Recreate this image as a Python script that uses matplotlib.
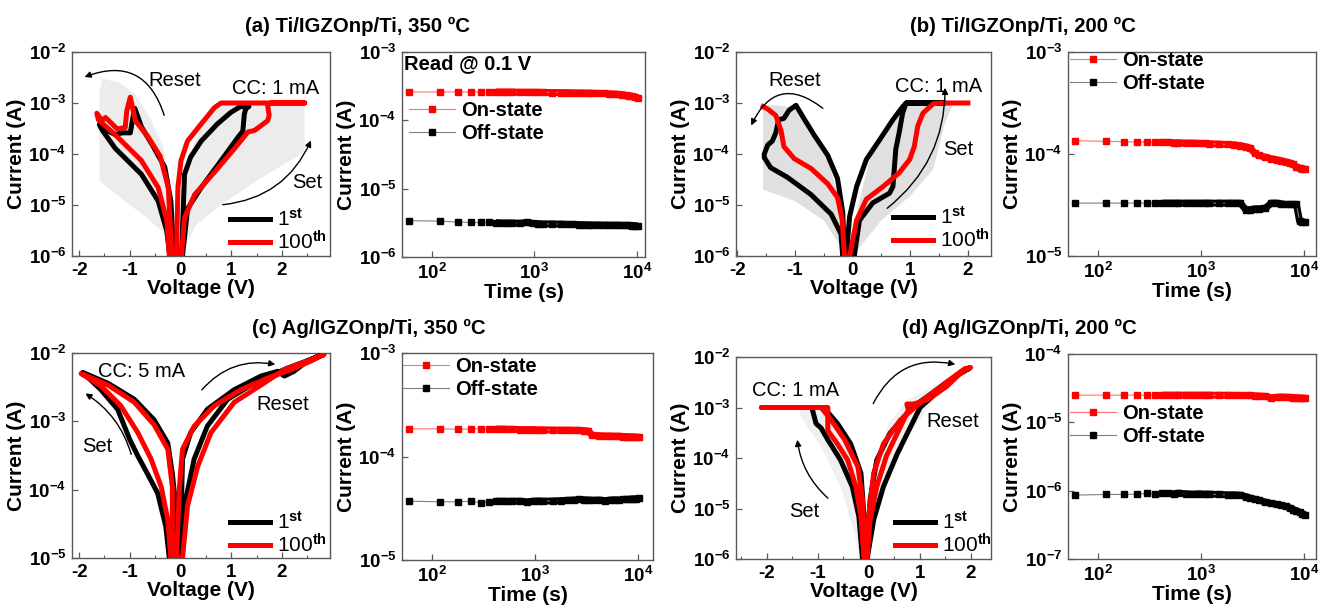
import numpy as np
import matplotlib
matplotlib.use('Agg')
import matplotlib.pyplot as plt
from matplotlib.ticker import MultipleLocator, NullLocator, FixedLocator, FuncFormatter

W, H = 1318, 606
plt.rcParams['font.family'] = ['Liberation Sans', 'DejaVu Sans']
plt.rcParams['font.weight'] = 'bold'
plt.rcParams['axes.labelweight'] = 'bold'
plt.rcParams['mathtext.fontset'] = 'custom'
plt.rcParams['mathtext.rm'] = 'Liberation Sans'
plt.rcParams['mathtext.it'] = 'Liberation Sans:italic'
plt.rcParams['mathtext.bf'] = 'Liberation Sans:bold'
plt.rcParams['axes.unicode_minus'] = False

# ---------------- I-V data ----------------
# (a) Ti/IGZOnp/Ti, 350 C
a_gray_neg_V = [-0.12, -0.35, -0.7, -1.1, -1.6, -1.6, -1.55, -1.2, -0.9, -0.6, -0.35, -0.2, -0.1]
a_gray_neg_I = [1e-6, 3e-6, 6e-6, 1.2e-5, 3e-5, 1.5e-3, 3e-3, 2.5e-3, 1.5e-3, 5e-4, 1.5e-4, 3e-5, 1e-6]
a_gray_pos_V = [0.0, 0.3, 0.8, 1.5, 2.45, 2.45, 0.8, 0.5, 0.25, 0.1, -0.02]
a_gray_pos_I = [1e-6, 4e-6, 1e-5, 3e-5, 1.1e-4, 1e-3, 1e-3, 5e-4, 1.5e-4, 3e-5, 1e-6]
a_1st_V = [0.04, 0.14, 0.41, 0.80, 1.13, 1.23, 1.26, 1.29, 1.35, 1.18, 0.99, 0.73, 0.41, 0.20, 0.08, 0.02,
           -0.13, -0.19, -0.31, -0.57, -0.77, -0.90, -0.93, -0.99, -1.15, -1.29, -1.42, -1.60, -1.55,
           -1.29, -0.77, -0.44, -0.27, -0.21]
a_1st_I = [1e-6, 8.5e-6, 2.2e-5, 7.4e-5, 2.1e-4, 2.8e-4, 6.1e-4, 7.8e-4, 8.5e-4, 8.5e-4, 6.5e-4, 3.9e-4, 1.8e-4, 8.7e-5, 4e-5, 1e-6,
           1e-6, 1.2e-5, 5.5e-5, 1.6e-4, 3.4e-4, 7.8e-4, 5.7e-4, 2.6e-4, 2.6e-4, 2.4e-4, 2.8e-4, 3.8e-4, 3e-4,
           1.3e-4, 4e-5, 1.2e-5, 3.1e-6, 1e-6]
a_100_V = [0.02, 0.08, 0.28, 0.67, 1.06, 1.33, 1.46, 1.59, 1.72, 1.75, 1.72, 1.78, 2.45, 0.80, 0.67, 0.41, 0.14, 0.01, -0.05, -0.08,
           -0.17, -0.24, -0.40, -0.63, -0.89, -0.99, -1.06, -1.09, -1.25, -1.35, -1.48, -1.55, -1.65, -1.62,
           -1.29, -0.77, -0.44, -0.27, -0.22]
a_100_I = [1e-6, 5.6e-6, 1.6e-5, 4.4e-5, 1.26e-4, 2.7e-4, 2.9e-4, 3.6e-4, 4.5e-4, 5.7e-4, 9e-4, 1e-3, 1e-3, 1e-3, 8.1e-4, 3.9e-4, 1.8e-4, 7.4e-5, 2.2e-5, 1e-6,
           1e-6, 2.2e-5, 9e-5, 2.1e-4, 4.5e-4, 1.3e-3, 7e-4, 3.3e-4, 3.1e-4, 3.9e-4, 5.2e-4, 4.5e-4, 6.3e-4, 4.7e-4,
           2.4e-4, 7.4e-5, 2.2e-5, 5e-6, 1e-6]

# (b) Ti/IGZOnp/Ti, 200 C
b_gray_neg_V = [-0.1, -0.5, -1.0, -1.55, -1.55, -1.3, -1.0, -0.7, -0.4, -0.2, -0.08]
b_gray_neg_I = [1e-6, 5e-6, 1.2e-5, 2e-5, 9e-4, 9e-4, 8e-4, 3e-4, 6e-5, 1e-5, 1e-6]
b_gray_pos_V = [0.0, 0.5, 1.0, 1.4, 1.6, 1.75, 1.0, 0.6, 0.3, 0.1, -0.05]
b_gray_pos_I = [1e-6, 5e-6, 1.5e-5, 5e-5, 4e-4, 1e-3, 1e-3, 4e-4, 8e-5, 1e-5, 1e-6]
b_1st_V = [0.03, 0.12, 0.35, 0.64, 0.70, 0.75, 0.81, 0.87, 0.93, 1.60, 0.93, 0.87, 0.70, 0.47, 0.24, 0.07, -0.05, -0.11,
           -0.14, -0.17, -0.26, -0.43, -0.66, -0.84, -0.98, -1.10, -1.19, -1.28, -1.33, -1.39, -1.47, -1.53, -1.53,
           -1.42, -1.13, -0.72, -0.37, -0.20, -0.17]
b_1st_I = [1e-6, 5e-6, 1.1e-5, 1.7e-5, 2.3e-5, 1.25e-4, 2.7e-4, 6.5e-4, 1e-3, 1e-3, 1e-3, 8.5e-4, 4.7e-4, 1.9e-4, 7.8e-5, 2.3e-5, 6e-6, 1e-6,
           1e-6, 7.2e-6, 3.3e-5, 9.4e-5, 2.3e-4, 4.9e-4, 9e-4, 7.2e-4, 5e-4, 4.7e-4, 2.6e-4, 1.8e-4, 1.5e-4, 1e-4, 8.5e-5,
           5.4e-5, 3.5e-5, 1.6e-5, 6.6e-6, 2.7e-6, 1e-6]
b_100_V = [-1.55, -1.47, -1.33, -1.24, -1.19, -1.01, -0.72, -0.43, -0.26, -0.18, -0.14,
           -0.05, 0.07, 0.24, 0.53, 0.81, 0.99, 1.07, 1.13, 1.22, 1.40, 1.57, 2.00]
b_100_I = [8.5e-4, 7.6e-4, 5.7e-4, 2.9e-4, 1.4e-4, 8.1e-5, 5.2e-5, 2.6e-5, 1.4e-5, 5.1e-6, 1e-6,
           1e-6, 5e-6, 1.3e-5, 2.3e-5, 4.3e-5, 7.8e-5, 1.4e-4, 3.5e-4, 6.3e-4, 9.7e-4, 1e-3, 1e-3]

# (c) Ag/IGZOnp/Ti, 350 C
c_1st_V = [-0.04, 0.02, 0.04, 0.20, 0.53, 1.06, 1.59, 1.92, 2.05, 2.24, 2.50, 2.70, 2.83, 2.11, 1.45, 0.93, 0.53, 0.27, 0.10, 0.00,
           -0.22, -0.29, -0.45, -0.65, -0.84, -1.00, -1.24, -1.57, -1.93, -1.43, -0.91, -0.52, -0.25, -0.16, -0.12, -0.12]
c_1st_I = [1e-5, 7e-5, 2.8e-4, 6.8e-4, 1.5e-3, 2.9e-3, 4.6e-3, 5.4e-3, 4.6e-3, 5.4e-3, 7.6e-3, 8.9e-3, 9.5e-3, 6e-3, 3.6e-3, 2.1e-3, 8.5e-4, 2.8e-4, 7e-5, 1e-5,
           1e-5, 2.9e-5, 8.9e-5, 1.7e-4, 3.1e-4, 5.4e-4, 1.5e-3, 2.9e-3, 5.2e-3, 3.6e-3, 2.1e-3, 1.05e-3, 4.8e-4, 1.7e-4, 8.9e-5, 1e-5]
c_100_V = [-0.08, -0.02, 0.04, 0.27, 0.67, 1.19, 1.72, 2.18, 2.57, 2.83, 2.05, 1.59, 1.06, 0.60, 0.34, 0.14, 0.04,
           -0.19, -0.25, -0.38, -0.58, -0.84, -1.18, -1.57, -1.96, -1.43, -0.91, -0.52, -0.25, -0.16, -0.16]
c_100_I = [1e-5, 1.1e-4, 3.9e-4, 8.5e-4, 1.7e-3, 2.9e-3, 4.3e-3, 5.7e-3, 7.6e-3, 9.5e-3, 5.7e-3, 3.4e-3, 1.9e-3, 6.8e-4, 2.2e-4, 5.8e-5, 1e-5,
           1e-5, 3.6e-5, 1.1e-4, 2.8e-4, 6.8e-4, 1.7e-3, 3.3e-3, 5e-3, 3.4e-3, 1.9e-3, 8.9e-4, 3.9e-4, 1.1e-4, 1e-5]

# (d) Ag/IGZOnp/Ti, 200 C
d_gray_neg_V = [-0.15, -0.5, -0.9, -1.35, -1.35, -0.8, -0.5, -0.25, -0.08]
d_gray_neg_I = [1e-6, 2e-5, 1.5e-4, 7e-4, 1.1e-3, 1.1e-3, 3e-4, 5e-5, 1e-6]
d_gray_pos_V = [0.0, 0.3, 0.8, 1.3, 1.9, 1.5, 0.8, 0.4, 0.15, -0.05]
d_gray_pos_I = [1e-6, 3e-5, 3e-4, 1.5e-3, 5e-3, 3.5e-3, 1.5e-3, 5e-4, 1e-4, 1e-6]
d_1st_V = [-0.12, -0.19, -0.32, -0.55, -0.80, -0.93, -1.03, -1.10, -1.10, -2.10, -0.88, -0.61, -0.35, -0.15, -0.09, -0.07,
           -0.04, 0.03, 0.16, 0.42, 0.75, 1.01, 1.47, 1.86, 1.98, 1.73, 1.34, 1.01, 0.82, 0.56, 0.29, 0.10, -0.03]
d_1st_I = [1e-6, 6.9e-6, 2.7e-5, 9.1e-5, 2.3e-4, 3.9e-4, 4.8e-4, 8.9e-4, 1e-3, 1e-3, 1e-3, 4.8e-4, 1.9e-4, 5e-5, 6.9e-6, 1e-6,
           1e-6, 1.5e-5, 9.1e-5, 3.1e-4, 7.6e-4, 1.3e-3, 2.8e-3, 5.3e-3, 6e-3, 4.3e-3, 2e-3, 1e-3, 4.1e-4, 1.2e-4, 2.7e-5, 6e-6, 1e-6]
d_100_V = [-0.09, -0.15, -0.25, -0.41, -0.61, -0.80, -0.80, -2.10, -0.93, -0.73, -0.47, -0.21, -0.12, -0.07,
           -0.06, 0.00, 0.10, 0.29, 0.62, 0.88, 1.14, 1.53, 1.89, 2.00, 1.82, 1.53, 1.14, 0.88, 0.75, 0.78, 0.62, 0.35, 0.16, 0.03, -0.03]
d_100_I = [1e-6, 6.9e-6, 2.7e-5, 9.1e-5, 1.9e-4, 3.5e-4, 1e-3, 1e-3, 1e-3, 5.6e-4, 2.3e-4, 6.7e-5, 1.5e-5, 1e-6,
           1e-6, 6.9e-6, 5e-5, 1.9e-4, 5.6e-4, 9.5e-4, 1.6e-3, 3.2e-3, 5.9e-3, 6.2e-3, 5e-3, 2.6e-3, 1.4e-3, 1.17e-3, 1.17e-3, 8.9e-4, 4.1e-4, 1.1e-4, 2.7e-5, 6e-6, 1e-6]

# ---------------- retention data ----------------
ret_t = [60, 120, 180, 240, 300, 360, 420, 480, 540, 600, 720, 840, 960, 1080, 1200, 1500, 1800, 2100, 2400,
         2700, 3000, 3300, 3600, 4200, 4800, 5400, 6000, 6600, 7200, 7800, 8400, 9000, 9600, 10200]
a_on = [2.6e-4, 2.6e-4, 2.6e-4, 2.6e-4, 2.6e-4, 2.6e-4, 2.6e-4, 2.6e-4, 2.6e-4, 2.6e-4, 2.58e-4, 2.58e-4, 2.57e-4, 2.57e-4,
        2.56e-4, 2.55e-4, 2.55e-4, 2.54e-4, 2.53e-4, 2.52e-4, 2.52e-4, 2.5e-4, 2.5e-4, 2.48e-4, 2.47e-4, 2.45e-4, 2.43e-4,
        2.4e-4, 2.38e-4, 2.33e-4, 2.3e-4, 2.25e-4, 2.2e-4, 2.15e-4]
a_off = [3.4e-6, 3.35e-6, 3.25e-6, 3.2e-6, 3.2e-6, 3.2e-6, 3.18e-6, 3.15e-6, 3.15e-6, 3.15e-6, 3.12e-6, 3.2e-6, 3.1e-6,
         3.08e-6, 3.05e-6, 3.05e-6, 3.03e-6, 3.0e-6, 3.0e-6, 2.98e-6, 2.97e-6, 2.96e-6, 2.95e-6, 2.95e-6, 2.93e-6,
         2.93e-6, 2.92e-6, 2.92e-6, 2.9e-6, 2.9e-6, 2.9e-6, 2.88e-6, 2.87e-6, 2.85e-6]
b_on = [1.35e-4, 1.33e-4, 1.32e-4, 1.31e-4, 1.31e-4, 1.3e-4, 1.3e-4, 1.3e-4, 1.29e-4, 1.29e-4, 1.28e-4, 1.28e-4, 1.27e-4,
        1.27e-4, 1.26e-4, 1.25e-4, 1.24e-4, 1.23e-4, 1.21e-4, 1.18e-4, 1.14e-4, 1.02e-4, 9.7e-5, 9.3e-5, 9.0e-5, 8.8e-5,
        8.6e-5, 8.4e-5, 8.2e-5, 7.9e-5, 7.5e-5, 7.3e-5, 7.2e-5, 7.1e-5]
b_off = [3.3e-5, 3.3e-5, 3.3e-5, 3.3e-5, 3.3e-5, 3.3e-5, 3.3e-5, 3.3e-5, 3.3e-5, 3.3e-5, 3.3e-5, 3.3e-5, 3.3e-5, 3.3e-5,
         3.3e-5, 3.3e-5, 3.3e-5, 3.3e-5, 3.3e-5, 2.85e-5, 2.85e-5, 2.9e-5, 2.9e-5, 2.95e-5, 3.3e-5, 3.3e-5, 3.25e-5,
         3.2e-5, 3.2e-5, 3.2e-5, 3.2e-5, 2.2e-5, 2.15e-5, 2.15e-5]
c_on = [1.85e-4, 1.85e-4, 1.83e-4, 1.85e-4, 1.85e-4, 1.84e-4, 1.84e-4, 1.84e-4, 1.83e-4, 1.83e-4, 1.82e-4, 1.82e-4,
        1.82e-4, 1.81e-4, 1.81e-4, 1.8e-4, 1.8e-4, 1.8e-4, 1.79e-4, 1.79e-4, 1.78e-4, 1.76e-4, 1.6e-4, 1.59e-4, 1.58e-4,
        1.58e-4, 1.57e-4, 1.57e-4, 1.56e-4, 1.56e-4, 1.55e-4, 1.55e-4, 1.54e-4, 1.54e-4]
c_off = [3.7e-5, 3.65e-5, 3.65e-5, 3.7e-5, 3.55e-5, 3.65e-5, 3.7e-5, 3.7e-5, 3.68e-5, 3.7e-5, 3.7e-5, 3.65e-5, 3.7e-5,
         3.72e-5, 3.7e-5, 3.72e-5, 3.75e-5, 3.78e-5, 3.8e-5, 3.85e-5, 3.82e-5, 3.8e-5, 3.78e-5, 3.8e-5, 3.75e-5, 3.8e-5,
         3.82e-5, 3.8e-5, 3.85e-5, 3.85e-5, 3.87e-5, 3.9e-5, 3.9e-5, 3.95e-5]
d_on = [2.5e-5, 2.5e-5, 2.5e-5, 2.5e-5, 2.5e-5, 2.5e-5, 2.5e-5, 2.5e-5, 2.5e-5, 2.5e-5, 2.5e-5, 2.5e-5, 2.5e-5, 2.5e-5,
        2.5e-5, 2.49e-5, 2.49e-5, 2.48e-5, 2.48e-5, 2.47e-5, 2.47e-5, 2.45e-5, 2.43e-5, 2.4e-5, 2.3e-5, 2.32e-5, 2.35e-5,
        2.33e-5, 2.32e-5, 2.3e-5, 2.3e-5, 2.28e-5, 2.26e-5, 2.25e-5]
d_off = [8.6e-7, 8.8e-7, 8.8e-7, 8.9e-7, 9.1e-7, 9.0e-7, 9.1e-7, 9.1e-7, 9.0e-7, 9.2e-7, 9.0e-7, 8.9e-7, 9.0e-7, 8.9e-7,
         8.9e-7, 8.8e-7, 8.7e-7, 8.7e-7, 8.6e-7, 8.2e-7, 7.8e-7, 7.5e-7, 7.3e-7, 6.8e-7, 6.5e-7, 6.3e-7, 6.1e-7, 5.9e-7,
         5.6e-7, 5.3e-7, 5.1e-7, 4.8e-7, 4.6e-7, 4.4e-7]

titles = ['(a) Ti/IGZOnp/Ti, 350 ºC', '(b) Ti/IGZOnp/Ti, 200 ºC',
          '(c) Ag/IGZOnp/Ti, 350 ºC', '(d) Ag/IGZOnp/Ti, 200 ºC']

# ---------------- figure ----------------
fig = plt.figure(figsize=(W / 100, H / 100), dpi=100)
AXC = '#5a5a5a'


def add_ax(l, t, r, b):
    return fig.add_axes([l / W, 1 - b / H, (r - l) / W, (b - t) / H])


def logfmt(v, p):
    return r'$\mathbf{10^{%d}}$' % int(round(np.log10(v)))


def style(ax):
    for s in ax.spines.values():
        s.set_color(AXC)
        s.set_linewidth(1.0)
    ax.tick_params(which='both', direction='in', color=AXC, top=False, right=False)
    ax.tick_params(which='major', length=4, width=0.9, labelsize=13.5, pad=4)
    ax.tick_params(which='minor', length=2.5, width=0.8)


def iv_panel(box, xlim, ylim, grays, gcol, c1, c100, leg_xy):
    ax = add_ax(*box)
    for gv, gi in grays:
        ax.fill(gv, gi, color=gcol, lw=0, zorder=1)
    ax.plot(c1[0], c1[1], color='black', lw=3.6, zorder=3, solid_joinstyle='round', label='1$^{\\rm st}$')
    ax.plot(c100[0], c100[1], color='red', lw=3.6, zorder=4, solid_joinstyle='round', label='100$^{\\rm th}$')
    ax.set_yscale('log')
    ax.set_xlim(*xlim)
    ax.set_ylim(*ylim)
    ax.xaxis.set_major_locator(MultipleLocator(1))
    ax.xaxis.set_minor_locator(MultipleLocator(0.5))
    ax.xaxis.set_major_formatter(FuncFormatter(lambda v, p: '%d' % int(round(v))))
    ax.yaxis.set_major_locator(FixedLocator([10.0 ** k for k in range(-8, -1)]))
    ax.yaxis.set_minor_locator(NullLocator())
    ax.yaxis.set_major_formatter(FuncFormatter(logfmt))
    style(ax)
    ax.set_xlabel('Voltage (V)', fontsize=15, fontweight='bold', labelpad=0)
    ax.set_ylabel('Current (A)', fontsize=15, fontweight='bold', labelpad=2)
    ax.legend(loc='upper left', bbox_to_anchor=(leg_xy[0] / W, 1 - leg_xy[1] / H),
              bbox_transform=fig.transFigure, frameon=False, prop=dict(size=15, weight='normal'),
              handlelength=1.9, handletextpad=0.35, labelspacing=0.0, borderpad=0, borderaxespad=0)
    return ax


def ret_panel(box, xlim, ylim, t, on, off, leg_xy):
    ax = add_ax(*box)
    t = np.array(t)
    on = np.array(on)
    off = np.array(off)
    ax.plot(t, on, color='#ff7070', lw=0.8, marker='s', ms=5, mfc='red', mec='red', label='On-state', zorder=3)
    ax.plot(t, off, color='#808080', lw=0.8, marker='s', ms=5, mfc='black', mec='black', label='Off-state', zorder=3)
    dense = t >= 420
    ax.plot(t[dense], on[dense], color='red', lw=5, solid_capstyle='butt', zorder=2)
    ax.plot(t[dense], off[dense], color='black', lw=5, solid_capstyle='butt', zorder=2)
    ax.set_xscale('log')
    ax.set_yscale('log')
    ax.set_xlim(*xlim)
    ax.set_ylim(*ylim)
    ax.xaxis.set_major_locator(FixedLocator([1e2, 1e3, 1e4]))
    ax.xaxis.set_minor_locator(NullLocator())
    ax.xaxis.set_major_formatter(FuncFormatter(logfmt))
    ax.yaxis.set_major_locator(FixedLocator([10.0 ** k for k in range(-8, -1)]))
    ax.yaxis.set_minor_locator(NullLocator())
    ax.yaxis.set_major_formatter(FuncFormatter(logfmt))
    style(ax)
    ax.set_xlabel('Time (s)', fontsize=15, fontweight='bold', labelpad=0)
    ax.set_ylabel('Current (A)', fontsize=15, fontweight='bold', labelpad=2)
    ax.legend(loc='upper left', bbox_to_anchor=(leg_xy[0] / W, 1 - leg_xy[1] / H),
              bbox_transform=fig.transFigure, frameon=False, prop=dict(size=14.5, weight='bold'),
              handlelength=2.3, handletextpad=0.3, labelspacing=0.2, borderpad=0, borderaxespad=0)
    return ax


def note(text, x, y):
    fig.text(x / W, 1 - y / H, text, ha='center', va='baseline', fontsize=14.5, fontweight='normal')


def arrow(x0, y0, x1, y1, rad):
    fig.add_artist(matplotlib.patches.FancyArrowPatch(
        posA=(x0 / W, 1 - y0 / H), posB=(x1 / W, 1 - y1 / H), transform=fig.transFigure,
        arrowstyle='-|>', connectionstyle='arc3,rad=%g' % rad, color='black', lw=1.0, mutation_scale=9))


# panel (a)
iv_panel((72, 52, 330, 256), (-2.14, 2.95), (1e-6, 1e-2),
         [(a_gray_neg_V, a_gray_neg_I), (a_gray_pos_V, a_gray_pos_I)], '#ececec',
         (a_1st_V, a_1st_I), (a_100_V, a_100_I), (230, 208))
axr = ret_panel((402, 52, 645, 257), (51, 12000), (1e-6, 1e-3), ret_t, a_on, a_off, (409, 101))
axr.text(0.01, 0.945, 'Read @ 0.1 V', transform=axr.transAxes, ha='left', va='center', fontsize=14.5, fontweight='bold')

# panel (b)
iv_panel((736, 52, 991, 256), (-2.02, 2.4), (1e-6, 1e-2),
         [(b_gray_neg_V, b_gray_neg_I), (b_gray_pos_V, b_gray_pos_I)], '#e0e0e0',
         (b_1st_V, b_1st_I), (b_100_V, b_100_I), (893, 206))
ret_panel((1068, 52, 1316, 256), (51, 13000), (1e-5, 1e-3), ret_t, b_on, b_off, (1070, 51))

# panel (c)
iv_panel((72, 353, 330, 558), (-2.14, 2.95), (1e-5, 1e-2), [], '#ececec',
         (c_1st_V, c_1st_I), (c_100_V, c_100_I), (230, 511))
ret_panel((402, 353, 653, 560), (51, 14000), (1e-5, 1e-3), ret_t, c_on, c_off, (403, 357))

# panel (d)
iv_panel((736, 357, 991, 559), (-2.6, 2.4), (1e-6, 1e-2),
         [(d_gray_neg_V, d_gray_neg_I), (d_gray_pos_V, d_gray_pos_I)], '#f0f0f0',
         (d_1st_V, d_1st_I), (d_100_V, d_100_I), (895, 511))
ret_panel((1068, 354, 1316, 559), (51, 13000), (1e-7, 1e-4), ret_t, d_on, d_off, (1070, 404))

# titles
for txt, (x, y) in zip(titles, [(245, 32), (910, 32), (252, 334), (902, 334)]):
    fig.text(x / W, 1 - y / H, txt, ha='left', va='baseline', fontsize=14.7, fontweight='bold')

# annotations
note('Reset', 175, 86); note('CC: 1 mA', 276, 94); note('Set', 307, 188)
arrow(165, 118, 82, 78, 0.55); arrow(220, 205, 312, 138, 0.3)
note('Reset', 795, 86); note('CC: 1 mA', 939, 92); note('Set', 958, 155)
arrow(825, 110, 750, 128, 0.65); arrow(885, 210, 945, 85, 0.25)
note('CC: 5 mA', 142, 377); note('Set', 97, 452); note('Reset', 283, 410)
arrow(132, 457, 83, 392, 0.2); arrow(200, 392, 278, 365, -0.3)
note('CC: 1 mA', 796, 396); note('Set', 804, 517); note('Reset', 953, 427)
arrow(830, 500, 797, 437, -0.2); arrow(872, 406, 958, 365, -0.4)

fig.savefig('out.png', dpi=100)
